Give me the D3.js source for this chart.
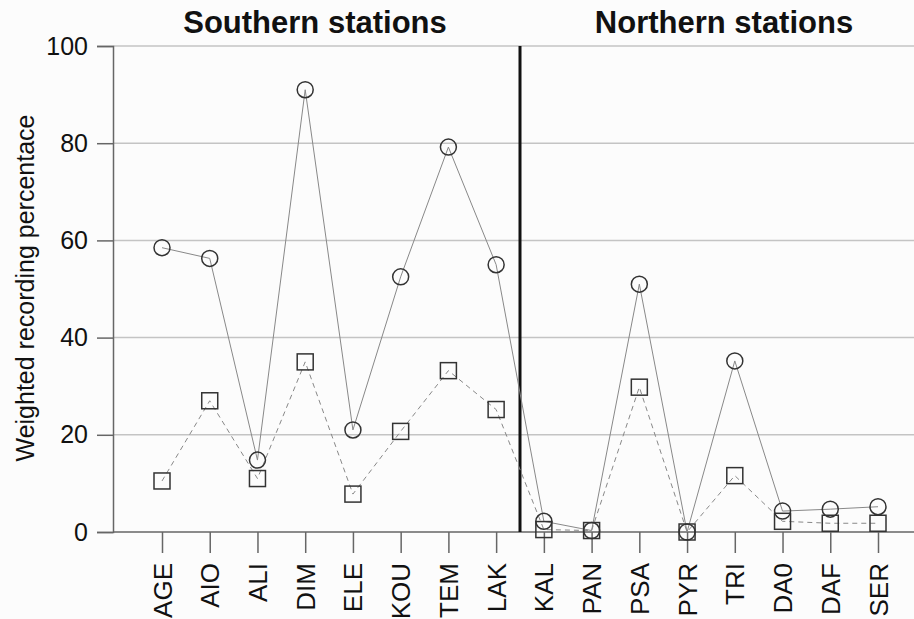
<!DOCTYPE html>
<html>
<head>
<meta charset="utf-8">
<script src="https://cdn.jsdelivr.net/npm/d3@7"></script>
<style>
  body { margin: 0; background: #fff; }
  text { font-family: "Liberation Sans", Arial, sans-serif; }
</style>
</head>
<body>
<script>
const w = 914;
const h = 619;

// data
const stations = ["AGE", "AIO", "ALI", "DIM", "ELE", "KOU", "TEM", "LAK",
                  "KAL", "PAN", "PSA", "PYR", "TRI", "DA0", "DAF", "SER"];
const circleValues = [58.5, 56.3, 14.8, 91, 21, 52.5, 79.2, 55,
                      2.2, 0.3, 51, 0, 35.2, 4.3, 4.7, 5.2];
const squareValues = [10.5, 27, 11, 35, 7.8, 20.7, 33.2, 25.2,
                      0.5, 0.3, 29.8, 0, 11.6, 2.2, 1.8, 1.8];
const yTicks = [0, 20, 40, 60, 80, 100];
const groups = ["Southern stations", "Northern stations"];

const plotLeft = 113, plotRight = 914, plotTop = 46, plotBottom = 532;

const svg = d3.select("body")
              .append("svg")
              .attr("width", w)
              .attr("height", h);

svg.append("rect")
   .attr("x", 0).attr("y", 0)
   .attr("width", w).attr("height", h)
   .attr("fill", "#fcfcfc");

const xScale = d3.scalePoint()
                 .domain(stations)
                 .range([162, 878]);

const yScale = d3.scaleLinear()
                 .domain([0, 100])
                 .range([plotBottom, plotTop]);

// grid
svg.selectAll("line.grid")
   .data(yTicks.filter(d => d > 0))
   .enter()
   .append("line")
   .attr("class", "grid")
   .attr("x1", plotLeft).attr("x2", plotRight)
   .attr("y1", d => yScale(d)).attr("y2", d => yScale(d))
   .attr("stroke", "#c4c4c4")
   .attr("stroke-width", 1.5);

// y axis
const yAxis = d3.axisLeft(yScale).tickValues(yTicks).tickSize(16).tickPadding(9);
const gy = svg.append("g")
   .attr("transform", "translate(" + plotLeft + ",0)")
   .call(yAxis);
gy.select(".domain").attr("stroke", "#666").attr("stroke-width", 1.5);
gy.selectAll(".tick line").attr("stroke", "#666").attr("stroke-width", 1.5);
gy.selectAll(".tick text")
  .attr("font-size", 25)
  .attr("fill", "#111")
  .style("font-family", "Liberation Sans, Arial, sans-serif");

// x axis
const xAxis = d3.axisBottom(xScale).tickSize(21).tickSizeOuter(0).tickFormat("");
const gx = svg.append("g")
   .attr("transform", "translate(0," + plotBottom + ")")
   .call(xAxis);
gx.select(".domain").attr("d", "M" + plotLeft + ",0H" + plotRight)
  .attr("stroke", "#666").attr("stroke-width", 1.5);
gx.selectAll(".tick line").attr("stroke", "#666").attr("stroke-width", 1.5);

svg.selectAll("text.cat")
   .data(stations)
   .enter()
   .append("text")
   .attr("class", "cat")
   .attr("transform", d => "translate(" + (xScale(d) + 9.5) + ",563) rotate(-90)")
   .attr("text-anchor", "end")
   .attr("font-size", 26)
   .attr("fill", "#111")
   .text(d => d);

// divider between southern and northern stations
const divX = (xScale("LAK") + xScale("KAL")) / 2;
svg.append("line")
   .attr("x1", divX).attr("x2", divX)
   .attr("y1", plotTop).attr("y2", plotBottom)
   .attr("stroke", "#111")
   .attr("stroke-width", 3);

// lines
const line = d3.line()
               .x((d, i) => xScale(stations[i]))
               .y(d => yScale(d));

svg.append("path")
   .datum(squareValues)
   .attr("d", line)
   .attr("fill", "none")
   .attr("stroke", "#888")
   .attr("stroke-width", 1)
   .attr("stroke-dasharray", "5,4");

svg.append("path")
   .datum(circleValues)
   .attr("d", line)
   .attr("fill", "none")
   .attr("stroke", "#888")
   .attr("stroke-width", 1);

// markers
svg.selectAll("rect.sq")
   .data(squareValues)
   .enter()
   .append("rect")
   .attr("class", "sq")
   .attr("x", (d, i) => xScale(stations[i]) - 8)
   .attr("y", d => yScale(d) - 8)
   .attr("width", 16).attr("height", 16)
   .attr("fill", "none")
   .attr("stroke", "#333")
   .attr("stroke-width", 1.5);

svg.selectAll("circle.ci")
   .data(circleValues)
   .enter()
   .append("circle")
   .attr("class", "ci")
   .attr("cx", (d, i) => xScale(stations[i]))
   .attr("cy", d => yScale(d))
   .attr("r", 8)
   .attr("fill", "none")
   .attr("stroke", "#333")
   .attr("stroke-width", 1.5);

// titles
svg.selectAll("text.group")
   .data(groups)
   .enter()
   .append("text")
   .attr("class", "group")
   .attr("x", (d, i) => i === 0 ? 315 : 724)
   .attr("y", 33)
   .attr("text-anchor", "middle")
   .attr("font-size", 31)
   .attr("font-weight", "bold")
   .attr("fill", "#111")
   .text(d => d);

svg.append("text")
   .attr("transform", "translate(34,288) rotate(-90)")
   .attr("text-anchor", "middle")
   .attr("font-size", 25)
   .attr("fill", "#111")
   .text("Weighted recording percentace");
</script>
</body>
</html>
